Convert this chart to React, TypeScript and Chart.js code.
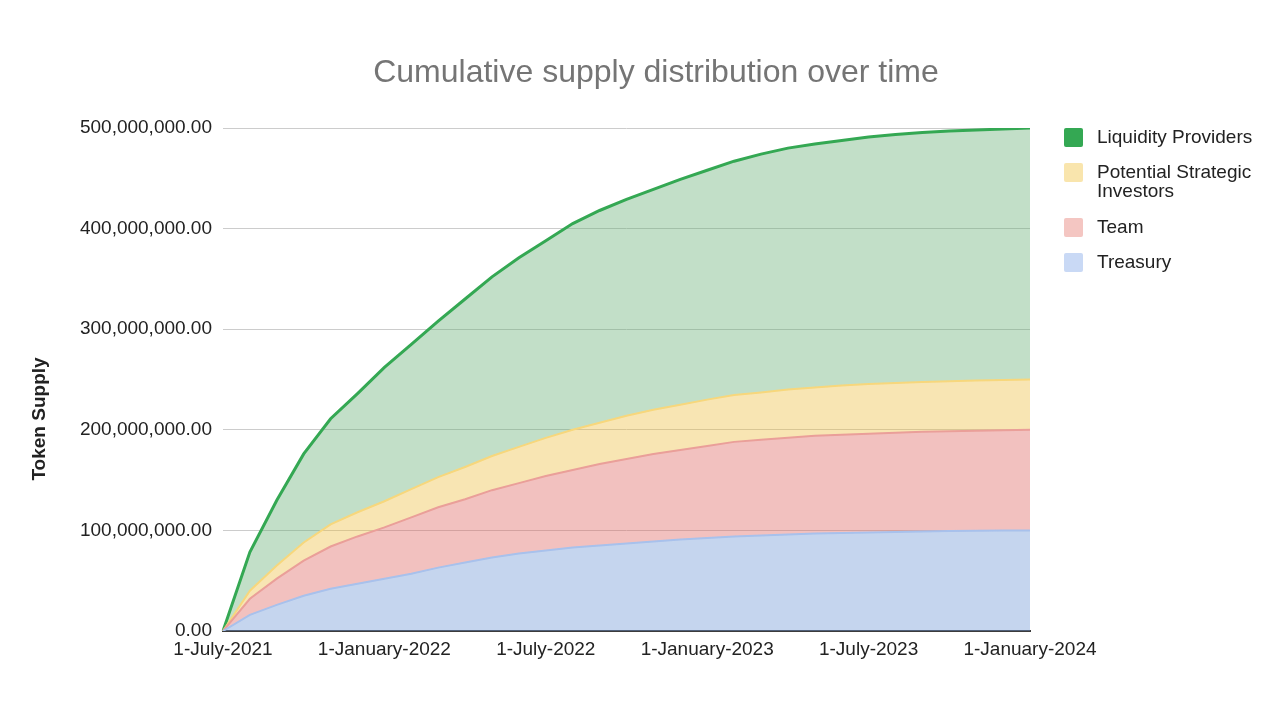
import React, { useEffect, useRef } from "react";
import { Chart, registerables } from "chart.js";

Chart.register(...registerables);

const FONT = '"Liberation Sans", Arial, Helvetica, sans-serif';
const MILLION = 1000000;

const MONTHS = [
  "1-July-2021", "1-August-2021", "1-September-2021", "1-October-2021", "1-November-2021", "1-December-2021",
  "1-January-2022", "1-February-2022", "1-March-2022", "1-April-2022", "1-May-2022", "1-June-2022",
  "1-July-2022", "1-August-2022", "1-September-2022", "1-October-2022", "1-November-2022", "1-December-2022",
  "1-January-2023", "1-February-2023", "1-March-2023", "1-April-2023", "1-May-2023", "1-June-2023",
  "1-July-2023", "1-August-2023", "1-September-2023", "1-October-2023", "1-November-2023", "1-December-2023",
  "1-January-2024",
];

const X_TICK_LABELS = [
  "1-July-2021", "1-January-2022", "1-July-2022", "1-January-2023", "1-July-2023", "1-January-2024",
];

// values in millions of tokens (per series, stacked in the chart)
const TREASURY = [0, 16, 26, 35, 42, 47, 52, 57, 63, 68, 73, 77, 80, 83, 85, 87, 89, 91, 92.5, 94, 95, 96, 97, 97.5, 98, 98.5, 99, 99.3, 99.6, 99.8, 100];
const TEAM = [0, 16, 26, 35, 42, 47, 51, 56, 60, 63, 67, 70, 74, 77, 81, 84, 87, 89, 91.5, 94, 95, 96, 97, 97.5, 98, 98.5, 99, 99.2, 99.4, 99.7, 100];
const INVESTORS = [0, 8, 13, 18, 22, 24, 26, 28, 30, 32, 34, 36, 38, 40, 41, 43, 44, 45, 46, 46.5, 47, 48, 48, 49, 49.5, 49.5, 49.5, 49.8, 50, 50, 50];
const LIQUIDITY = [0, 38.5, 65, 88, 105, 118, 133, 144, 155, 167, 178, 188, 196, 205, 211, 215, 219, 224, 228, 232.5, 237, 240, 242, 243.5, 245.5, 247, 248, 248.7, 249, 249.5, 250];

const Y_TICKS_MAX = 500000000;
const Y_STEP = 100000000;

const LEGEND_ITEMS = [
  { lines: ["Liquidity Providers"], color: "#34a853" },
  { lines: ["Potential Strategic", "Investors"], color: "#f9e5ad" },
  { lines: ["Team"], color: "#f4c6c2" },
  { lines: ["Treasury"], color: "#c9d9f5" },
];

const textPlugin = {
  id: "customText",
  afterDraw(chart: any) {
    const ctx = chart.ctx as CanvasRenderingContext2D;
    ctx.save();
    // Title
    ctx.fillStyle = "#757575";
    ctx.font = `32px ${FONT}`;
    ctx.textAlign = "center";
    ctx.textBaseline = "alphabetic";
    ctx.fillText("Cumulative supply distribution over time", 656, 82);

    // Y axis title
    ctx.save();
    ctx.translate(40, 419);
    ctx.rotate(-Math.PI / 2);
    ctx.fillStyle = "#222222";
    ctx.font = `bold 19px ${FONT}`;
    ctx.textAlign = "center";
    ctx.textBaseline = "middle";
    ctx.fillText("Token Supply", 0, 0);
    ctx.restore();

    // Legend
    const boxX = 1064;
    const textX = 1097;
    const tops = [128, 163, 218, 253];
    ctx.font = `19px ${FONT}`;
    ctx.textAlign = "left";
    ctx.textBaseline = "middle";
    LEGEND_ITEMS.forEach((item, i) => {
      const top = tops[i];
      ctx.fillStyle = item.color;
      ctx.beginPath();
      (ctx as any).roundRect(boxX, top, 19, 19, 2);
      ctx.fill();
      ctx.fillStyle = "#222222";
      item.lines.forEach((line, j) => {
        ctx.fillText(line, textX, top + 10 + j * 19);
      });
    });
    ctx.restore();
  },
};

export default function App() {
  const canvasRef = useRef<HTMLCanvasElement | null>(null);

  useEffect(() => {
    const canvas = canvasRef.current;
    if (!canvas) return;
    const toUnits = (arr: number[]) => arr.map((v) => v * MILLION);
    const chart = new Chart(canvas, {
      type: "line",
      data: {
        labels: MONTHS,
        datasets: [
          {
            label: "Treasury",
            data: toUnits(TREASURY),
            borderColor: "#a8c1ec",
            backgroundColor: "rgba(110,150,212,0.4)",
            borderWidth: 2,
            fill: "origin",
          },
          {
            label: "Team",
            data: toUnits(TEAM),
            borderColor: "#ea9f99",
            backgroundColor: "rgba(222,100,95,0.4)",
            borderWidth: 2,
            fill: "-1",
          },
          {
            label: "Potential Strategic Investors",
            data: toUnits(INVESTORS),
            borderColor: "#f7d77c",
            backgroundColor: "rgba(238,190,65,0.4)",
            borderWidth: 2,
            fill: "-1",
          },
          {
            label: "Liquidity Providers",
            data: toUnits(LIQUIDITY),
            borderColor: "#34a853",
            backgroundColor: "rgba(102,175,117,0.4)",
            borderWidth: 3,
            fill: "-1",
          },
        ],
      },
      options: {
        responsive: false,
        animation: false,
        devicePixelRatio: 1,
        layout: { padding: { left: 0, right: 250, top: 128, bottom: 0 } },
        elements: {
          point: { radius: 0, hoverRadius: 0 },
          line: { tension: 0 },
        },
        plugins: {
          legend: { display: false },
          title: { display: false },
          tooltip: { enabled: false },
        },
        scales: {
          x: {
            offset: false,
            grid: { display: false, drawTicks: false },
            border: { display: true, color: "#3c3c3c", width: 2 },
            afterFit: (scale: any) => {
              scale.height = 89;
            },
            ticks: {
              autoSkip: false,
              maxRotation: 0,
              minRotation: 0,
              padding: 7,
              color: "#222222",
              font: { family: FONT, size: 19 },
              callback: function (_value: any, index: number) {
                const lbl = MONTHS[index];
                return X_TICK_LABELS.includes(lbl) ? lbl : null;
              },
            },
          },
          y: {
            stacked: true,
            min: 0,
            max: Y_TICKS_MAX,
            grid: { color: "#cccccc", lineWidth: 1, drawTicks: false },
            border: { display: false },
            afterFit: (scale: any) => {
              scale.width = 223;
            },
            ticks: {
              stepSize: Y_STEP,
              padding: 11,
              color: "#222222",
              font: { family: FONT, size: 19 },
              callback: (value: any) =>
                Number(value).toLocaleString("en-US", { minimumFractionDigits: 2, maximumFractionDigits: 2 }),
            },
          },
        },
      },
      plugins: [textPlugin],
    });
    return () => chart.destroy();
  }, []);

  return (
    <div style={{ position: "absolute", left: 0, top: 0, width: 1280, height: 720, background: "#ffffff" }}>
      <canvas ref={canvasRef} width={1280} height={720} style={{ display: "block" }} />
    </div>
  );
}
